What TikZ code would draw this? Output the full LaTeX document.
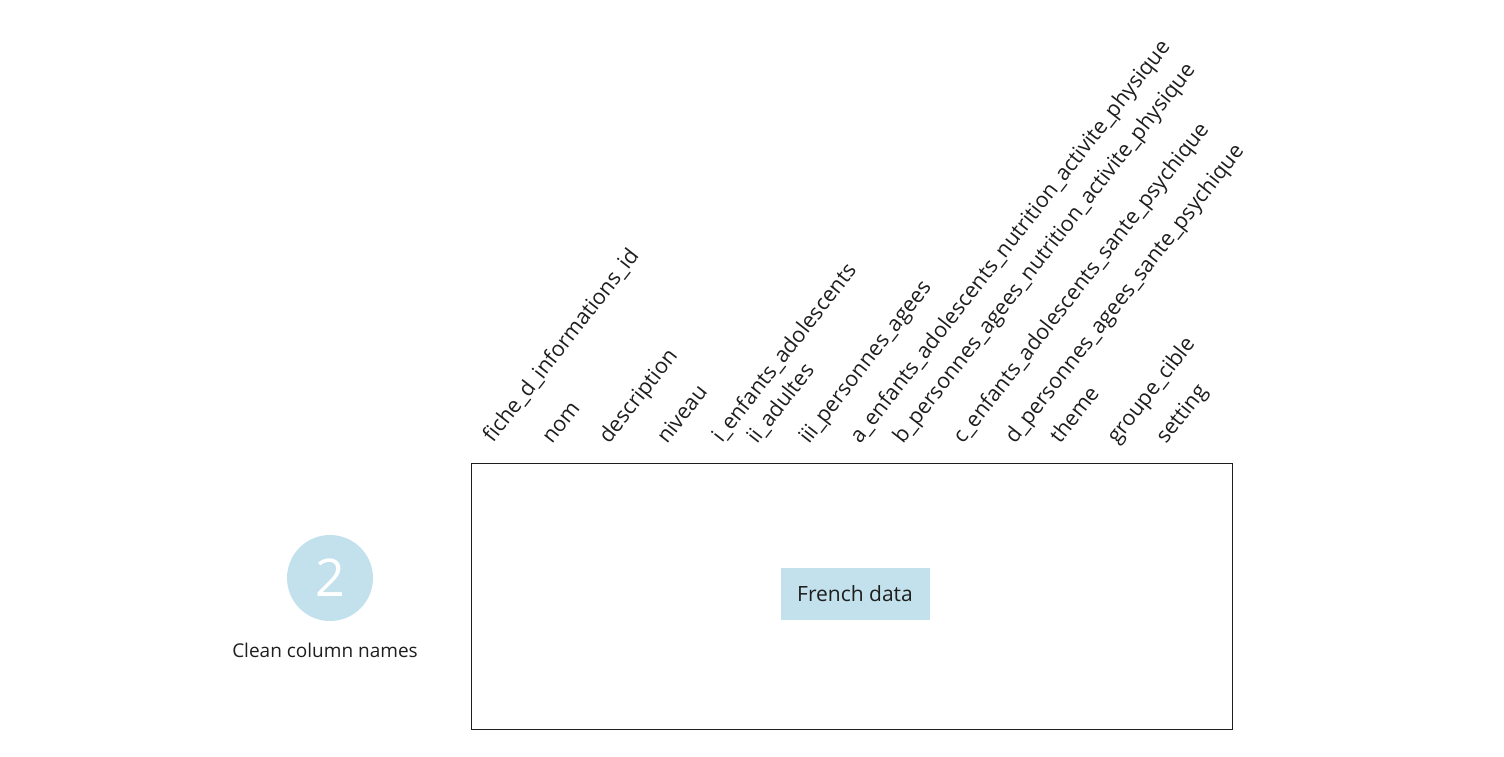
\documentclass[tikz,border=0pt]{standalone}
\usepackage{fontspec}
\setmainfont{Open Sans}
\usepackage{xcolor}
\usepackage{tikz}
\definecolor{paleblue}{RGB}{194,225,236}
\definecolor{ink}{RGB}{30,30,30}

\begin{document}
\begin{tikzpicture}[x=1pt,y=-1pt,
  colname/.style={anchor=base west,rotate=52,inner sep=0pt,text=ink,font=\fontsize{21.5}{24}\selectfont},
  tag/.style={fill=paleblue,text=ink,font=\fontsize{21}{24}\selectfont},
  stepdot/.style={circle,fill=paleblue,minimum size=86pt,inner sep=0pt,text=white,font=\fontsize{52}{58}\selectfont}]
\useasboundingbox (0,0) rectangle (1504,757);
  \draw[ink,line width=0.8pt] (471,463) rectangle (1232,729);
  \node[tag,minimum width=149pt,minimum height=52pt] (french) at (855,594) {French data};
  \node[stepdot] (stepnum) at (330,578) {2};
  \node[text=ink,font=\fontsize{19}{22}\selectfont] (steptext) at (325,650) {Clean column names};
  \node[colname] (fiche) at (493,444) {fiche\_d\_informations\_id};
  \node[colname] (nom) at (552,445) {nom};
  \node[colname] (descr) at (609,445) {description};
  \node[colname] (niveau) at (667,445) {niveau};
  \node[colname] (ienf) at (722,444) {i\_enfants\_adolescents};
  \node[colname] (iiadu) at (757,445) {ii\_adultes};
  \node[colname] (iiipers) at (809,445) {iii\_personnes\_agees};
  \node[colname] (aenf) at (860,445) {a\_enfants\_adolescents\_nutrition\_activite\_physique};
  \node[colname] (bpers) at (903,445) {b\_personnes\_agees\_nutrition\_activite\_physique};
  \node[colname] (cenf) at (963,445) {c\_enfants\_adolescents\_sante\_psychique};
  \node[colname] (dpers) at (1015,445) {d\_personnes\_agees\_sante\_psychique};
  \node[colname] (theme) at (1060,445) {theme};
  \node[colname] (groupe) at (1117,445) {groupe\_cible};
  \node[colname] (setting) at (1166,445) {setting};
\end{tikzpicture}
\end{document}
